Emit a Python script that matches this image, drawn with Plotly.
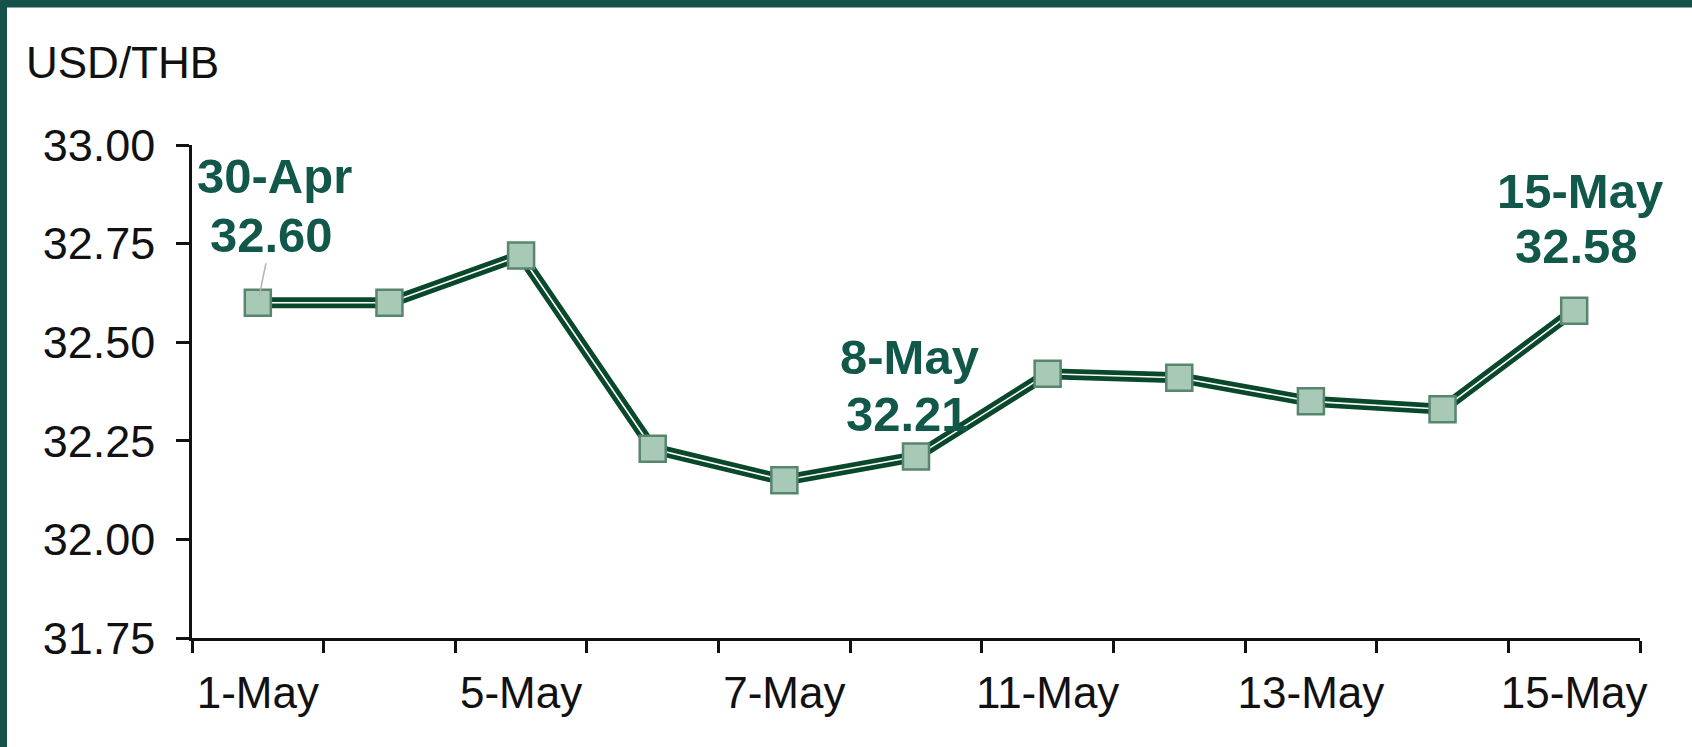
import plotly.graph_objects as go

# ---- data ----
categories = ["1-May", "2-May", "5-May", "6-May", "7-May", "8-May",
              "11-May", "12-May", "13-May", "14-May", "15-May"]
usd_thb = [32.60, 32.60, 32.72, 32.23, 32.15, 32.21, 32.42, 32.41, 32.35, 32.33, 32.58]
tick_labels = ["1-May", "", "5-May", "", "7-May", "", "11-May", "", "13-May", "", "15-May"]
y_ticks = [31.75, 32.00, 32.25, 32.50, 32.75, 33.00]
callout_index = [0, 5, 10]
callout_dates = ["30-Apr", "8-May", "15-May"]

# ---- styles ----
W, H = 1692, 747
ML, MR, MT, MB = 192, 52, 145, 109
PW, PH = W - ML - MR, H - MT - MB
DARK = "#0a482c"
TEXT_GREEN = "#11574a"
FRAME = "#15534a"
FONT = "Liberation Sans"

fig = go.Figure()
fig.add_trace(go.Scatter(x=categories, y=usd_thb, mode="lines",
                         line=dict(color=DARK, width=11), hoverinfo="skip",
                         showlegend=False))
fig.add_trace(go.Scatter(x=categories, y=usd_thb, mode="lines+markers",
                         line=dict(color="white", width=1.6),
                         marker=dict(symbol="square", size=26, color="#a8c9b6",
                                     line=dict(color="#58856d", width=2.5)),
                         showlegend=False))

# callout text offsets (pixels relative to point): (dx1, dy1, dx2, dy2)
offsets = [(17, 127, 14, 68), (-7, 100, -9, 43), (6, 120, 2, 65)]
anns = []
for k, idx in enumerate(callout_index):
    dx1, dy1, dx2, dy2 = offsets[k]
    anns.append(dict(x=categories[idx], y=usd_thb[idx], xref="x", yref="y",
                     text=f"<b>{callout_dates[k]}</b>", showarrow=False,
                     xshift=dx1, yshift=dy1, xanchor="center", yanchor="middle",
                     font=dict(family=FONT, size=49, color=TEXT_GREEN)))
    if k == 0:
        anns.append(dict(x=categories[idx], y=usd_thb[idx], xref="x", yref="y",
                         text=f"<b>{usd_thb[idx]:.2f}</b>", showarrow=True,
                         ax=dx2, ay=-dy2, axref="pixel", ayref="pixel",
                         arrowhead=0, arrowwidth=1.5, arrowcolor="#b8b0b0",
                         standoff=7,
                         font=dict(family=FONT, size=49, color=TEXT_GREEN)))
    else:
        anns.append(dict(x=categories[idx], y=usd_thb[idx], xref="x", yref="y",
                         text=f"<b>{usd_thb[idx]:.2f}</b>", showarrow=False,
                         xshift=dx2, yshift=dy2, xanchor="center", yanchor="middle",
                         font=dict(family=FONT, size=49, color=TEXT_GREEN)))

anns.append(dict(x=(24 - ML) / PW, y=(H - MB - 62) / PH, xref="paper", yref="paper",
                 text="USD/THB", showarrow=False, xanchor="left", yanchor="middle",
                 font=dict(family=FONT, size=44, color="#111111")))

shapes = [
    dict(type="rect", xref="paper", yref="paper", layer="above",
         x0=-ML / PW - 0.01, x1=(W - ML) / PW + 0.01,
         y0=(H - MB - 7.5) / PH, y1=(H - MB + 5) / PH,
         fillcolor=FRAME, line=dict(width=0)),
    dict(type="rect", xref="paper", yref="paper", layer="above",
         x0=-ML / PW - 0.01, x1=(7 - ML) / PW,
         y0=-MB / PH - 0.02, y1=(H - MB + 5) / PH,
         fillcolor=FRAME, line=dict(width=0)),
]

fig.update_layout(
    width=W, height=H,
    margin=dict(l=ML, r=MR, t=MT, b=MB, autoexpand=False),
    paper_bgcolor="white", plot_bgcolor="white",
    annotations=anns, shapes=shapes,
    font=dict(family=FONT, size=44, color="#111111"),
)
fig.update_xaxes(type="category", categoryorder="array", categoryarray=categories,
                 range=[-0.5, len(categories) - 0.5],
                 tickmode="array", tickvals=categories, ticktext=tick_labels,
                 tickangle=0, ticklabelstandoff=14,
                 tickson="boundaries", ticks="outside", ticklen=12, tickwidth=2.5,
                 tickcolor="#111111", showline=True, linecolor="#111111", linewidth=2.5,
                 showgrid=False, zeroline=False, automargin=False,
                 tickfont=dict(family=FONT, size=44, color="#111111"))
fig.update_yaxes(range=[31.75, 33.0], tickmode="array", tickvals=y_ticks,
                 ticktext=[f"{v:.2f}" for v in y_ticks],
                 ticks="outside", ticklen=13, tickwidth=2.5, tickcolor="#111111",
                 ticklabelstandoff=12,
                 showline=True, linecolor="#111111", linewidth=2.5,
                 showgrid=False, zeroline=False, automargin=False,
                 tickfont=dict(family=FONT, size=45, color="#111111"))

fig.write_html("out.html", config={"displayModeBar": False},
               post_script="document.body.style.margin='0';document.body.style.overflow='hidden';")
